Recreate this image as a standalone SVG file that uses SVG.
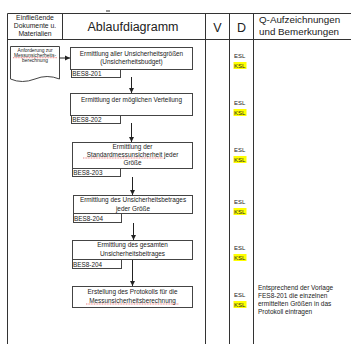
<svg xmlns="http://www.w3.org/2000/svg" width="351" height="344" viewBox="0 0 351 344">
<defs>
<marker id="ah" markerWidth="6" markerHeight="6" refX="5" refY="3" orient="auto" markerUnits="userSpaceOnUse">
<path d="M0,0.5 L5,3 L0,5.5 Z" fill="#222"/>
</marker>
<style>
text{font-family:"Liberation Sans",Arial,sans-serif;fill:#222}
.grid{stroke:#333;stroke-width:1;fill:none}
.box{fill:#fff;stroke:#444;stroke-width:1}
.t{font-size:6.4px;text-anchor:middle}
.sm{font-size:6px}
.q{font-size:6.5px}
.h{font-size:6.8px;text-anchor:middle}
.big{font-size:12.5px;text-anchor:middle}
.code{font-size:6.4px}
.d{font-size:4.9px;text-anchor:middle}
.hl{fill:#ffff00}
.conn{stroke:#222;stroke-width:1;fill:none}
.sq{stroke:#e03030;stroke-width:0.6;fill:none;stroke-dasharray:1 0.6}
</style>
</defs>
<rect width="351" height="344" fill="#fff"/>
<g id="table">
<path class="grid" d="M7.5,13.5 H351 M7.5,39.5 H351 M7.5,13.5 V344 M62.5,13.5 V39.5 M205.5,13.5 V344 M229.5,13.5 V344 M253.5,13.5 V344"/>
<path d="M106,11 H110" stroke="#333" stroke-width="1"/>
<text class="h" x="35" y="19.5">Einfließende</text>
<text class="h" x="35" y="27.5">Dokumente u.</text>
<text class="h" x="35" y="35.5">Materialien</text>
<text class="big" x="133" y="31">Ablaufdiagramm</text>
<text class="big" x="217.5" y="31.5">V</text>
<text class="big" x="241.5" y="31.5">D</text>
<text x="259" y="23" style="font-size:9.8px">Q-Aufzeichnungen</text>
<text x="259" y="34.5" style="font-size:9.8px">und Bemerkungen</text>
</g>
<g id="doc">
<path class="box" d="M10.5,46.5 H59.5 V79 Q47,74 35,79 Q22,84 10.5,79 Z"/>
<text class="d" x="35" y="51.5">Anforderung zur</text>
<text class="d" x="35" y="56.5">Messunsicherheits-</text>
<path class="sq" d="M13,57.7 H57"/>
<text class="d" x="35" y="61.5">berechnung</text>
</g>
<g id="connectors">
<path class="conn" d="M59.5,58 H70" marker-end="url(#ah)"/>
<path class="conn" d="M131.5,77 V93" marker-end="url(#ah)"/>
<path class="conn" d="M131.5,123 V142" marker-end="url(#ah)"/>
<path class="conn" d="M132.5,177 V195" marker-end="url(#ah)"/>
<path class="conn" d="M133.5,223 V240" marker-end="url(#ah)"/>
<path class="conn" d="M132.5,260 V286" marker-end="url(#ah)"/>
</g>
<g id="n1">
<rect class="box" x="70.5" y="47.5" width="122" height="22"/>
<text class="t" x="131.5" y="55.5">Ermittlung aller Unsicherheitsgrößen</text>
<text class="t" x="131.5" y="64">(Unsicherheitsbudget)</text>
<rect class="box" x="71.5" y="69.5" width="49" height="8"/>
<text class="code" x="72.3" y="76">BES8-201</text>
</g>
<g id="n2">
<rect class="box" x="70.5" y="93.5" width="122" height="22"/>
<text class="t" x="131.5" y="102">Ermittlung der möglichen Verteilung</text>
<rect class="box" x="71.5" y="115.5" width="49" height="8"/>
<text class="code" x="72.3" y="122">BES8-202</text>
</g>
<g id="n3">
<rect class="box" x="72.5" y="142.5" width="120" height="26"/>
<text class="t" x="132.5" y="148.5">Ermittlung der</text>
<text class="t" x="132.5" y="156.5">Standardmessunsicherheit jeder</text>
<path class="sq" d="M83,158 H163"/>
<text class="t" x="132.5" y="165">Größe</text>
<rect class="box" x="72.5" y="168.5" width="48" height="8"/>
<text class="code" x="73.3" y="175">BES8-203</text>
</g>
<g id="n4">
<rect class="box" x="73.5" y="195.5" width="119" height="18"/>
<text class="t" x="133" y="202">Ermittlung des Unsicherheitsbetrages</text>
<text class="t" x="133" y="210.5">jeder Größe</text>
<rect class="box" x="73.5" y="213.5" width="48" height="9"/>
<text class="code" x="74" y="220.5">BES8-204</text>
</g>
<g id="n5">
<rect class="box" x="72.5" y="240.5" width="120" height="19"/>
<text class="t" x="132.5" y="247">Ermittlung des gesamten</text>
<text class="t" x="132.5" y="256">Unsicherheitsbeitrages</text>
<rect class="box" x="72.5" y="259.5" width="49" height="9"/>
<text class="code" x="73" y="266.5">BES8-204</text>
</g>
<g id="n6">
<rect class="box" x="72.5" y="286.5" width="120" height="21"/>
<text class="t" x="132.5" y="294">Erstellung des Protokolls für die</text>
<text class="t" x="132.5" y="302.5">Messunsicherheitsberechnung</text>
<path class="sq" d="M86,304 H179"/>
</g>
<g id="dcol">
<text class="sm" x="234" y="58">ESL</text>
<rect class="hl" x="233.5" y="62" width="13" height="7"/>
<text class="sm" x="234" y="67.5">KSL</text>
<text class="sm" x="234" y="105">ESL</text>
<rect class="hl" x="233.5" y="109" width="13" height="7"/>
<text class="sm" x="234" y="114.5">KSL</text>
<text class="sm" x="234" y="152">ESL</text>
<rect class="hl" x="233.5" y="156" width="13" height="7"/>
<text class="sm" x="234" y="161.5">KSL</text>
<text class="sm" x="234" y="204">ESL</text>
<rect class="hl" x="233.5" y="208" width="13" height="7"/>
<text class="sm" x="234" y="213.5">KSL</text>
<text class="sm" x="234" y="250">ESL</text>
<rect class="hl" x="233.5" y="254" width="13" height="7"/>
<text class="sm" x="234" y="259.5">KSL</text>
<text class="sm" x="234" y="297">ESL</text>
<rect class="hl" x="233.5" y="301" width="13" height="7"/>
<text class="sm" x="234" y="306.5">KSL</text>
</g>
<g id="qcol">
<text class="q" x="258" y="290">Entsprechend der Vorlage</text>
<text class="q" x="258" y="298">FES8-201 die einzelnen</text>
<text class="q" x="258" y="306">ermittelten Größen in das</text>
<text class="q" x="258" y="314">Protokoll eintragen</text>
</g>
</svg>
